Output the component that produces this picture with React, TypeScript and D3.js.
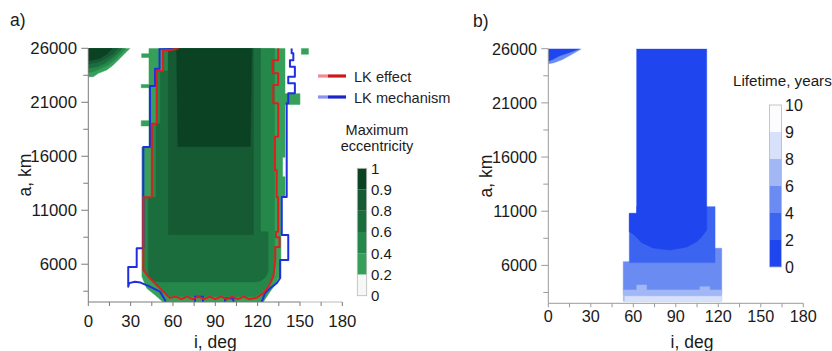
import React from "react";
import * as d3 from "d3";

// ---------- axes ----------
const iTicks = [0, 30, 60, 90, 120, 150, 180];
const iMinorTicks = [15, 45, 75, 105, 135, 165];
const aTicks = [6000, 11000, 16000, 21000, 26000];
const aMinorTicks = [3500, 8500, 13500, 18500, 23500];
const aDomain = [2500, 26000];
const iDomain = [0, 180];

// ---------- colour levels ----------
const eccLevels = ["0", "0.2", "0.4", "0.6", "0.8", "0.9", "1"];
const eccColors = ["#f6f8f6", "#36a05a", "#24884a", "#1c6d3d", "#155a33", "#0c4224"];
const lifeLevels = ["0", "2", "4", "6", "8", "9", "10"];
const lifeColors = ["#1f45ee", "#3b64f0", "#6a8cf2", "#a2b7f5", "#d7e1fa", "#fcfcff"];

// ---------- panel a: max eccentricity regions [i (deg), a (km)] ----------
const ecc02Main = [
  [43, 26000], [43, 16850], [38, 16850], [38, 4845], [41.4, 3770], [47.3, 3150], [52.9, 2500],
  [124, 2500], [128.8, 3460], [132.3, 4080], [134.6, 4700], [136.5, 4700], [136.5, 12200],
  [139.4, 12200], [139.4, 14100], [137.7, 14100], [137.7, 15900], [139.4, 15900], [139.4, 20800],
  [150, 20800], [150, 21800], [139.4, 21800], [139.4, 26000],
];
const ecc02BumpTop = [[37.8, 25500], [43.5, 25500], [43.5, 25150], [37.8, 25150]];
const ecc02BumpMid = [[37.5, 22650], [43.5, 22650], [43.5, 22350], [37.5, 22350]];
const ecc02BumpLow = [[37.5, 19300], [43.5, 19300], [43.5, 18800], [37.5, 18800]];
const ecc02Speck = [[151, 26000], [156, 26000], [156, 25450], [151, 25450]];
const ecc02Corner = [
  [0, 26000], [29.6, 26000], [26, 25537], [22.5, 25074], [17.7, 24453], [13, 23990], [7.1, 23684], [3.5, 23370], [0, 23370],
];
const ecc04Corner = [
  [0, 26000], [26.5, 26000], [23, 25500], [19.5, 25000], [14.5, 24500], [9, 24150], [4, 23850], [0, 23750],
];
const ecc06Corner = [
  [0, 26000], [24, 26000], [20.5, 25500], [16.5, 25050], [11.5, 24600], [6, 24300], [0, 24150],
];
const ecc08Corner = [[0, 26000], [21, 26000], [17.5, 25500], [13, 25100], [7.5, 24750], [0, 24550]];
const ecc09Corner = [[0, 26000], [17, 26000], [13, 25450], [8, 25050], [0, 24850]];
const ecc04Main = [
  [53, 26000], [53, 23900], [48.5, 23900], [48.5, 19000], [45, 19000], [45, 12200], [39.5, 12200],
  [39.5, 5400], [43, 4800], [46.5, 4350], [51, 3800], [56, 3200], [58.5, 3000], [118, 3000],
  [123, 3350], [126.5, 3950], [130.5, 4800], [132, 5600], [132, 26000],
];
const ecc06Main = [
  [57, 26000], [57, 23900], [51, 23900], [51, 19000], [48, 19000], [48, 12200], [42.5, 12200],
  [42.5, 5200], [43.5, 4750], [46.5, 4450], [52, 4350], [118, 4350], [122, 4450], [125.5, 4800],
  [127.5, 5300], [127.5, 9000], [122, 9000], [122, 26000],
];
const ecc08Main = [[56.7, 26000], [56.7, 8750], [117, 8750], [117, 26000]];
const ecc09Main = [[62.6, 26000], [63.5, 16900], [114.8, 16900], [115.8, 26000]];

const eccRegions: [number, number[][]][] = [
  [1, ecc02Main], [1, ecc02BumpTop], [1, ecc02BumpMid], [1, ecc02BumpLow], [1, ecc02Speck], [1, ecc02Corner],
  [2, ecc04Corner], [3, ecc06Corner], [4, ecc08Corner], [5, ecc09Corner],
  [2, ecc04Main], [3, ecc06Main], [4, ecc08Main], [5, ecc09Main],
];

// contour lines
const lkEffect = [
  [64, 26000], [58, 25850], [53, 25850], [53, 23900], [48.5, 23900], [48.5, 19000], [45, 19000], [45, 12200],
  [39, 12200], [39, 5465], [42.5, 4845], [46.1, 4380], [50.8, 3770], [55.6, 3150], [57.9, 2880],
  [62, 3000], [66, 2760], [70, 3000], [74, 2760], [78, 3000], [82, 2760], [86, 3000], [90, 2760],
  [94, 3000], [98, 2760], [102, 3000], [106, 2760], [110, 3000], [114, 2760], [119.3, 2900],
  [124, 3300], [127.6, 3920], [131.1, 4845], [132.5, 6400], [132.5, 7600], [135.5, 7600], [135.5, 8500],
  [133, 8500], [133, 9000], [134.5, 9000], [134.5, 12200], [133.5, 12200], [133.5, 14700], [132.3, 14700],
  [132.3, 17800], [134.6, 17800], [134.6, 20900], [131.1, 20900], [131.1, 22600], [134.6, 22600],
  [134.6, 23700], [130.7, 23700], [130.7, 24900], [134.6, 24900], [134.6, 26000],
];
const lkMechanism = [
  [60, 26000], [50.5, 25950], [50.5, 24100], [47.3, 24100], [47.3, 22500], [43.7, 22500], [43.7, 16850],
  [39, 16850], [39, 7470], [34.3, 7470], [34.3, 5750], [28.3, 5750], [28.3, 3920], [29, 4250],
  [33, 4380], [37, 4300], [43.7, 3920], [50.8, 3460], [54.4, 2690], [55, 2300],
  [75.6, 2300], [75.6, 2990], [81.3, 2990], [81.3, 2300], [96.9, 2300], [96.9, 2850], [102.8, 2850], [102.8, 2300],
  [122.5, 2300], [122.9, 2530], [125.2, 3306], [128.8, 3770], [133.5, 4233], [135.9, 4695], [135.9, 6390],
  [141.7, 6390], [141.7, 8700], [137.1, 8700], [137.1, 12226], [140.6, 12226], [140.6, 20900],
  [141.7, 20900], [141.7, 21830], [146.4, 21830], [146.4, 22760], [141.7, 22760], [141.7, 23370],
  [146.4, 23370], [146.4, 24300], [142.9, 24300], [142.9, 24900], [145.3, 24900], [145.3, 25540],
  [144.1, 25540], [144.1, 26000],
];

// ---------- panel b: lifetime regions ----------
const life68Base = [[52.9, 3730], [122.4, 3730], [122.4, 2700], [52.9, 2700]];
const life46Block = [
  [52.9, 6340], [57.2, 6340], [57.2, 6250], [117.7, 6250], [117.7, 7577], [122.4, 7577], [122.4, 3730], [52.9, 3730],
];
const life68Bumps = [
  [52.9, 3730], [62.4, 3730], [62.4, 4190], [69.4, 4190], [69.4, 3730], [107, 3730], [107, 4030],
  [114, 4030], [114, 3730], [122.4, 3730], [122.4, 3300], [52.9, 3300],
];
const life89Bottom = [[54, 3150], [122.4, 3150], [122.4, 2650], [54, 2650]];
const life24Block = [
  [57.2, 10800], [62.4, 10800], [62.4, 11420], [117.7, 11420], [117.7, 6250], [57.2, 6250],
];
const life02Column = [
  [62.4, 26000], [111.8, 26000], [111.8, 9270], [108, 8600], [104.7, 8190], [97.7, 7700], [85.9, 7420],
  [74.1, 7600], [66, 8100], [60, 8900], [57.2, 9100], [57.2, 10800], [62.4, 10800],
];
const life46Corner = [[0, 26000], [23.5, 26000], [17, 25500], [10, 25000], [4, 24700], [0, 24600]];
const life02Corner = [[0, 26000], [22, 26000], [15, 25650], [8, 25350], [3, 25000], [0, 24850]];

const lifeRegions: [number, number[][]][] = [
  [3, life68Base], [2, life46Block], [3, life68Bumps], [4, life89Bottom], [1, life24Block],
  [0, life02Column], [2, life46Corner], [0, life02Corner],
];

const FONT = "'Liberation Sans', Arial, sans-serif";

type PanelProps = {
  x0: number; x1: number; yTop: number; yBot: number;
  regions: [number, number[][]][]; colors: string[]; id: string;
  tickFont: number; xLabelBase: number; yLabelRight: number;
  axisColor: string; xTitleX: number; yTitleX: number; lines?: boolean;
};

function Panel(p: PanelProps) {
  const x = d3.scaleLinear().domain(iDomain).range([p.x0, p.x1]);
  const y = d3.scaleLinear().domain(aDomain).range([p.yBot, p.yTop]);
  const line = d3.line<number[]>().x((d) => x(d[0])).y((d) => y(d[1]));
  return (
    <g>
      <defs>
        <clipPath id={p.id}>
          <rect x={p.x0} y={p.yTop} width={p.x1 - p.x0} height={p.yBot - p.yTop} />
        </clipPath>
      </defs>
      <g clipPath={`url(#${p.id})`}>
        {p.regions.map(([lvl, pts], k) => (
          <path key={k} d={line(pts) + "Z"} fill={p.colors[lvl]} stroke={p.colors[lvl]} strokeWidth={0.5} />
        ))}
        {p.lines && (
          <>
            <path d={line(lkMechanism) || ""} fill="none" stroke="#1f2fe0" strokeWidth={2} strokeLinejoin="round" />
            <path d={line(lkEffect) || ""} fill="none" stroke="#de1f1f" strokeWidth={2} strokeLinejoin="round" />
          </>
        )}
      </g>
      {/* axes */}
      <line x1={p.x0} x2={p.x0} y1={p.yTop} y2={p.yBot} stroke={p.axisColor} strokeWidth={1} />
      <line x1={p.x0} x2={x(150)} y1={p.yBot} y2={p.yBot} stroke={p.axisColor} strokeWidth={1} />
      <line x1={x(150)} x2={p.x1} y1={p.yBot} y2={p.yBot} stroke={p.lines ? "#bbbbbb" : p.axisColor} strokeWidth={1} />
      {aTicks.map((t) => (
        <g key={t}>
          <line x1={p.x0 - 7} x2={p.x0} y1={y(t)} y2={y(t)} stroke={p.axisColor} />
          <text x={p.yLabelRight} y={y(t)} dy="0.36em" textAnchor="end" fontSize={p.tickFont} fill="#1a1a1a">{t}</text>
        </g>
      ))}
      {aMinorTicks.map((t) => (
        <line key={t} x1={p.x0 - 5} x2={p.x0} y1={y(t)} y2={y(t)} stroke={p.axisColor} />
      ))}
      {iTicks.map((t) => (
        <g key={t}>
          <line x1={x(t)} x2={x(t)} y1={p.yBot} y2={p.yBot + 4} stroke={p.axisColor} />
          <text x={x(t)} y={p.xLabelBase} textAnchor="middle" fontSize={p.tickFont} fill="#1a1a1a">{t}</text>
        </g>
      ))}
      {iMinorTicks.map((t) => (
        <line key={t} x1={x(t)} x2={x(t)} y1={p.yBot} y2={p.yBot + 4} stroke={p.axisColor} />
      ))}
      <text x={p.xTitleX} y={348} textAnchor="middle" fontSize={17.5} fill="#1a1a1a">i, deg</text>
      <text transform={`translate(${p.yTitleX},${(p.yTop + p.yBot) / 2}) rotate(-90)`} textAnchor="middle" fontSize={17.5} fill="#1a1a1a">a, km</text>
    </g>
  );
}

function ColorBar(props: { x: number; w: number; yTop: number; yBot: number; colors: string[]; labels: string[]; labelX: number; fontSize: number }) {
  const s = d3.scaleLinear().domain([0, props.labels.length - 1]).range([props.yBot, props.yTop]);
  return (
    <g>
      {props.colors.map((c, k) => (
        <rect key={k} x={props.x} y={s(k + 1)} width={props.w} height={s(k) - s(k + 1)} fill={c} />
      ))}
      <rect x={props.x} y={props.yTop} width={props.w} height={props.yBot - props.yTop} fill="none" stroke="#b8b8b8" strokeWidth={0.8} />
      {props.labels.map((l, k) => (
        <text key={l} x={props.labelX} y={s(k)} dy="0.36em" fontSize={props.fontSize} fill="#1a1a1a">{l}</text>
      ))}
    </g>
  );
}

export default function App() {
  return (
    <svg width={832} height={351} style={{ position: "absolute", left: 0, top: 0, background: "#fff" }} fontFamily={FONT}>
      <rect width={832} height={351} fill="#fff" />
      <text x={10} y={26} fontSize={17.5} fill="#1a1a1a">a)</text>
      <text x={473} y={27} fontSize={17.5} fill="#1a1a1a">b)</text>
      <Panel id="clipA" x0={88.3} x1={342.3} yTop={48.3} yBot={302} regions={eccRegions} colors={eccColors}
        tickFont={16.8} xLabelBase={326.5} yLabelRight={77} axisColor="#7a7a7a" xTitleX={215.3} yTitleX={31} lines />
      <Panel id="clipB" x0={548.3} x1={803.3} yTop={48.7} yBot={303.3} regions={lifeRegions} colors={lifeColors}
        tickFont={16.2} xLabelBase={321.5} yLabelRight={537} axisColor="#9a9a9a" xTitleX={692} yTitleX={492} />
      {/* legend panel a */}
      <line x1={318} x2={328} y1={76} y2={76} stroke="#f08a98" strokeWidth={3.2} />
      <line x1={328} x2={346} y1={76} y2={76} stroke="#cc1818" strokeWidth={3.2} />
      <text x={354} y={81.5} fontSize={14.6} fill="#2a1e1e">LK effect</text>
      <line x1={318} x2={328} y1={97} y2={97} stroke="#8a94f0" strokeWidth={3.2} />
      <line x1={328} x2={346} y1={97} y2={97} stroke="#1a26c8" strokeWidth={3.2} />
      <text x={354} y={102.5} fontSize={14.6} fill="#1e1e2a">LK mechanism</text>
      <text x={377} y={134.5} textAnchor="middle" fontSize={14.5} fill="#1a1a1a">Maximum</text>
      <text x={377} y={150.8} textAnchor="middle" fontSize={14.5} fill="#1a1a1a">eccentricity</text>
      <ColorBar x={357.3} w={9.4} yTop={168.3} yBot={295.7} colors={eccColors} labels={eccLevels} labelX={371} fontSize={15} />
      {/* legend panel b */}
      <text x={733} y={86} fontSize={15.2} fill="#1a1a1a">Lifetime, years</text>
      <ColorBar x={769.5} w={12} yTop={105} yBot={267} colors={lifeColors} labels={lifeLevels} labelX={785} fontSize={16} />
    </svg>
  );
}
